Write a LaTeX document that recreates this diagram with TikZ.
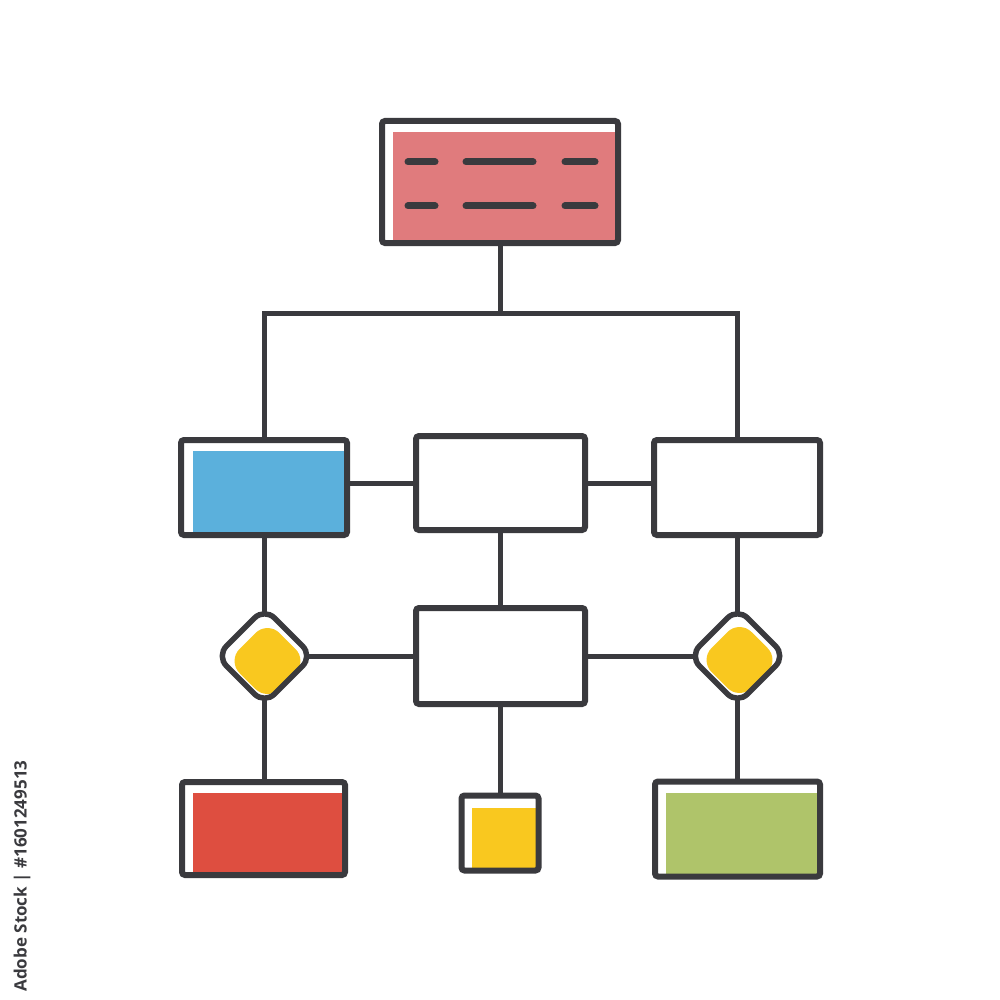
\documentclass[tikz,border=0pt]{standalone}
\usepackage{fontspec}
\newfontfamily\sidefont{Open Sans}
\usetikzlibrary{shapes.geometric}
\definecolor{ink}{HTML}{3A3A3E}
\definecolor{cpink}{HTML}{E07B7D}
\definecolor{cblue}{HTML}{5BB0DC}
\definecolor{cyellow}{HTML}{F9C81F}
\definecolor{cred}{HTML}{DE4E40}
\definecolor{cgreen}{HTML}{AFC46A}
\pgfdeclarelayer{bg}
\pgfdeclarelayer{fills}
\pgfsetlayers{bg,fills,main}
\begin{document}
\begin{tikzpicture}[x=1pt,y=-1pt,
  box/.style={rectangle, draw=ink, line width=6pt, rounded corners=3pt, inner sep=0pt, outer sep=0pt},
  dia/.style={diamond, draw=ink, line width=5.5pt, rounded corners=14pt, minimum width=96pt, minimum height=96pt, inner sep=0pt, outer sep=0pt, aspect=1},
  conn/.style={draw=ink, line width=5pt},
  barline/.style={draw=ink, line width=7pt, line cap=round}]
\useasboundingbox (0,0) rectangle (1000,1000);

% nodes
\node[box, minimum width=236pt, minimum height=122pt] (top) at (500,182) {};
\node[box, minimum width=166pt, minimum height=95pt] (b1) at (264,487.5) {};
\node[box, minimum width=169pt, minimum height=94pt] (b2) at (500.5,483) {};
\node[box, minimum width=166pt, minimum height=95pt] (b3) at (737,487.5) {};
\node[dia] (d1) at (264.5,656) {};
\node[box, minimum width=169pt, minimum height=96pt] (m) at (500.5,656) {};
\node[dia] (d2) at (737.5,656) {};
\node[box, minimum width=163pt, minimum height=93pt] (r1) at (263.5,828.5) {};
\node[box, minimum width=77pt, minimum height=75pt] (y1) at (500,833) {};
\node[box, minimum width=165pt, minimum height=95pt] (g1) at (737.5,829) {};

% text bars in top box
\draw[barline] (408,162) -- (435,162);
\draw[barline] (466,162) -- (533,162);
\draw[barline] (565,162) -- (595,162);
\draw[barline] (408,206) -- (435,206);
\draw[barline] (466,206) -- (533,206);
\draw[barline] (565,206) -- (595,206);

% background and connectors
\begin{pgfonlayer}{bg}
\fill[white] (0,0) rectangle (1000,1000);
\coordinate (j) at (500,313);
\draw[conn] (top.south) -- (j);
\draw[conn] (b1.north) |- (j) -| (b3.north);
\draw[conn] (b2.west) -- (b2.west -| b1.east);
\draw[conn] (b2.east) -- (b2.east -| b3.west);
\draw[conn] (b1.south -| d1.center) -- (d1.center);
\draw[conn] (b2.south) -- (m.north);
\draw[conn] (b3.south -| d2.center) -- (d2.center);
\draw[conn] (d1.center) -- (m.west);
\draw[conn] (m.east) -- (d2.center);
\draw[conn] (d1.center) -- (d1.center |- r1.north);
\draw[conn] (m.south) -- (m.south |- y1.north);
\draw[conn] (d2.center) -- (d2.center |- g1.north);
\end{pgfonlayer}

% fills
\begin{pgfonlayer}{fills}
\fill[cpink] ([xshift=11pt,yshift=-11pt]top.north west) rectangle ([xshift=-3pt,yshift=3pt]top.south east);
\fill[cblue] ([xshift=12pt,yshift=-11pt]b1.north west) rectangle ([xshift=-3pt,yshift=3pt]b1.south east);
\fill[white] ([xshift=3pt,yshift=-3pt]b2.north west) rectangle ([xshift=-3pt,yshift=3pt]b2.south east);
\fill[white] ([xshift=3pt,yshift=-3pt]b3.north west) rectangle ([xshift=-3pt,yshift=3pt]b3.south east);
\fill[white] ([xshift=3pt,yshift=-3pt]m.north west) rectangle ([xshift=-3pt,yshift=3pt]m.south east);
\fill[cred] ([xshift=11pt,yshift=-11pt]r1.north west) rectangle ([xshift=-3pt,yshift=3pt]r1.south east);
\fill[cyellow] ([xshift=10.5pt,yshift=-12pt]y1.north west) rectangle ([xshift=-3pt,yshift=3pt]y1.south east);
\fill[cgreen] ([xshift=11pt,yshift=-11.5pt]g1.north west) rectangle ([xshift=-3pt,yshift=3pt]g1.south east);
\fill[white, rounded corners=14pt] (d1.north) -- (d1.east) -- (d1.south) -- (d1.west) -- cycle;
\fill[white, rounded corners=14pt] (d2.north) -- (d2.east) -- (d2.south) -- (d2.west) -- cycle;
\fill[cyellow, rounded corners=17pt] ([shift={(3,5)}]d1.center) ++(0,-40) -- ++(40,40) -- ++(-40,40) -- ++(-40,-40) -- cycle;
\fill[cyellow, rounded corners=17pt] ([shift={(2,4)}]d2.center) ++(0,-40) -- ++(40,40) -- ++(-40,40) -- ++(-40,-40) -- cycle;
\end{pgfonlayer}

% side credit
\node[rotate=90, text=ink, font=\sidefont\bfseries\fontsize{17}{17}\selectfont, inner sep=0pt] (credit) at (22,876) {Adobe Stock | \#1601249513};
\end{tikzpicture}
\end{document}
